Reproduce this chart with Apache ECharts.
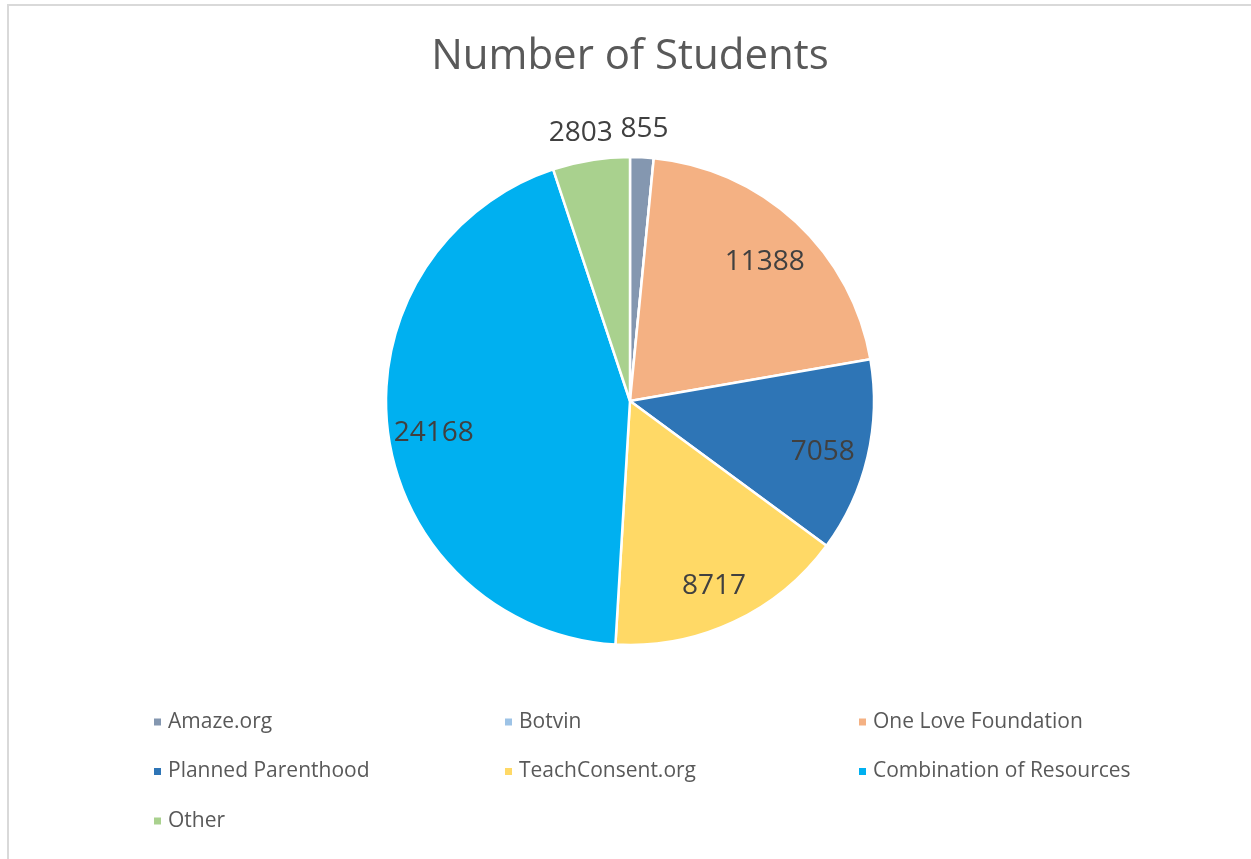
<!DOCTYPE html>
<html>
<head>
<meta charset="utf-8">
<script src="https://cdn.jsdelivr.net/npm/echarts@6/dist/echarts.min.js"></script>
<style>
  html, body { margin: 0; padding: 0; background: #ffffff; overflow: hidden; }
  #frame { position: absolute; left: 7px; top: 4px; width: 1300px; height: 900px; border: 2px solid #D9D9D9; box-sizing: border-box; }
  #chart { position: absolute; left: 0; top: 0; width: 1251px; height: 859px; }
</style>
</head>
<body>
<div id="frame"></div>
<div id="chart"></div>
<script>
const categories = ['Amaze.org', 'Botvin', 'One Love Foundation', 'Planned Parenthood', 'TeachConsent.org', 'Combination of Resources', 'Other'];
const students = [855, 0, 11388, 7058, 8717, 24168, 2803];
const colors = ['#8497B0', '#9DC3E6', '#F4B183', '#2E75B6', '#FFD966', '#00B0F0', '#A9D18E'];
const legendColumns = [
  ['Amaze.org', 'Planned Parenthood', 'Other'],
  ['Botvin', 'TeachConsent.org'],
  ['One Love Foundation', 'Combination of Resources']
];
const title = 'Number of Students';

const FONT = '"Open Sans", "Liberation Sans", sans-serif';
const center = [630, 401];
const R = 244;

const dataMain = categories.map((c, i) => ({ name: c, value: students[i], itemStyle: { color: colors[i] } }));
const dataOverlay = categories.map((c, i) => ({ name: c, value: students[i] }));

const chart = echarts.init(document.getElementById('chart'), null, { renderer: 'canvas' });

const legendLefts = [152, 503, 857];
const legends = legendColumns.map((col, k) => ({
  orient: 'vertical',
  left: legendLefts[k],
  top: 710,
  padding: 0,
  itemGap: 25.5,
  itemWidth: 9,
  itemHeight: 9,
  icon: 'rect',
  selectedMode: false,
  data: col,
  textStyle: { fontFamily: FONT, fontSize: 21, color: '#595959', lineHeight: 24, padding: [0, 0, 0, 1] }
}));

const overlayBase = {
  type: 'pie',
  center: center,
  startAngle: 90,
  clockwise: true,
  silent: true,
  legendHoverLink: false,
  labelLine: { show: false },
  itemStyle: { color: 'rgba(0,0,0,0)', borderWidth: 0 },
  emphasis: { disabled: true },
  animation: false,
  data: dataOverlay
};

chart.setOption({
  backgroundColor: 'transparent',
  color: colors,
  title: {
    text: title,
    left: 625,
    textAlign: 'center',
    top: 31,
    textStyle: { fontFamily: FONT, fontSize: 42, fontWeight: 'normal', color: '#595959' }
  },
  legend: legends,
  series: [
    {
      type: 'pie',
      name: 'main',
      center: center,
      radius: [0, R],
      startAngle: 90,
      clockwise: true,
      label: { show: false },
      labelLine: { show: false },
      itemStyle: { borderColor: '#ffffff', borderWidth: 2.5 },
      emphasis: { scale: false },
      animation: false,
      data: dataMain
    },
    Object.assign({}, overlayBase, {
      name: 'labelsInner',
      radius: [151, 239],
      label: {
        show: true, position: 'inside',
        fontFamily: FONT, fontSize: 28, color: '#404040',
        formatter: p => (p.value > 0 && p.percent >= 6) ? String(p.value) : ''
      },
      labelLayout: () => ({ dy: 6 })
    }),
    Object.assign({}, overlayBase, {
      name: 'labelsOuter',
      radius: [258, 290],
      label: {
        show: true, position: 'inside',
        fontFamily: FONT, fontSize: 28, color: '#404040',
        formatter: p => (p.value > 0 && p.percent < 6) ? String(p.value) : ''
      },
      labelLayout: (p) => ({ dy: 5, dx: (p.labelRect.x + p.labelRect.width / 2 < center[0]) ? -5 : 1 })
    })
  ]
});
</script>
</body>
</html>
